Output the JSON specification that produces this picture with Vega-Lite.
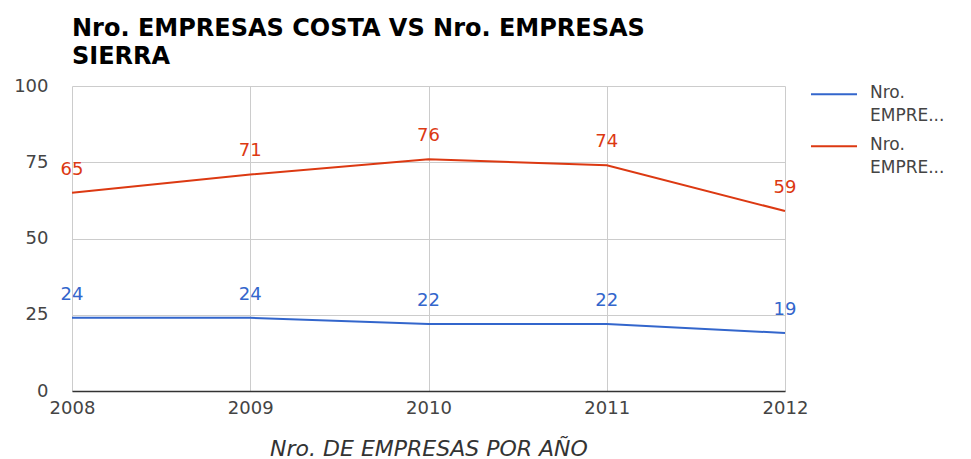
{
  "$schema": "https://vega.github.io/schema/vega-lite/v6.json",
  "width": 713,
  "height": 305,
  "autosize": {"type": "none"},
  "padding": {"left": 72, "top": 86, "right": 186, "bottom": 68},
  "background": "white",
  "title": {
    "text": ["Nro. EMPRESAS COSTA VS Nro. EMPRESAS", "SIERRA"],
    "anchor": "start",
    "font": "DejaVu Sans",
    "fontSize": 24,
    "fontWeight": "bold",
    "color": "#000000",
    "lineHeight": 28,
    "baseline": "top",
    "offset": 3,
    "frame": "group"
  },
  "config": {
    "view": {"stroke": null},
    "font": "DejaVu Sans",
    "style": {"guide-label": {"lineHeight": 23}}
  },
  "data": {
    "values": [
      {"year": "2008", "series": "Nro. EMPRESAS COSTA", "value": 24},
      {"year": "2009", "series": "Nro. EMPRESAS COSTA", "value": 24},
      {"year": "2010", "series": "Nro. EMPRESAS COSTA", "value": 22},
      {"year": "2011", "series": "Nro. EMPRESAS COSTA", "value": 22},
      {"year": "2012", "series": "Nro. EMPRESAS COSTA", "value": 19},
      {"year": "2008", "series": "Nro. EMPRESAS SIERRA", "value": 65},
      {"year": "2009", "series": "Nro. EMPRESAS SIERRA", "value": 71},
      {"year": "2010", "series": "Nro. EMPRESAS SIERRA", "value": 76},
      {"year": "2011", "series": "Nro. EMPRESAS SIERRA", "value": 74},
      {"year": "2012", "series": "Nro. EMPRESAS SIERRA", "value": 59}
    ]
  },
  "encoding": {
    "x": {
      "field": "year",
      "type": "ordinal",
      "scale": {"type": "point", "padding": 0},
      "axis": {
        "title": "Nro. DE EMPRESAS POR AÑO",
        "titleFont": "DejaVu Sans",
        "titleFontSize": 22,
        "titleFontStyle": "italic",
        "titleFontWeight": "normal",
        "titleColor": "#333333",
        "titlePadding": 21,
        "labelAngle": 0,
        "labelFontSize": 18,
        "labelColor": "#444444",
        "labelPadding": 8,
        "ticks": false,
        "grid": true,
        "gridColor": "#cccccc",
        "domainColor": "#333333",
        "domainWidth": 1.5
      }
    },
    "y": {
      "field": "value",
      "type": "quantitative",
      "scale": {"domain": [0, 100], "nice": false},
      "axis": {
        "title": null,
        "values": [0, 25, 50, 75, 100],
        "labelFontSize": 18,
        "labelColor": "#444444",
        "labelPadding": 24,
        "ticks": false,
        "domain": false,
        "gridColor": "#cccccc"
      }
    },
    "color": {
      "field": "series",
      "type": "nominal",
      "scale": {"domain": ["Nro. EMPRESAS COSTA", "Nro. EMPRESAS SIERRA"], "range": ["#3366cc", "#dc3912"]},
      "legend": {
        "title": null,
        "orient": "none",
        "legendX": 741,
        "legendY": -14,
        "padding": 0,
        "symbolType": "M-1.165,0.06H1.165",
        "symbolSize": 1560,
        "symbolStrokeWidth": 2,
        "labelExpr": "['Nro.', 'EMPRE...']",
        "labelBaseline": "middle",
        "labelFontSize": 17,
        "labelColor": "#444444",
        "labelOffset": 15,
        "rowPadding": 0,
        "labelLimit": 200
      }
    }
  },
  "layer": [
    {"mark": {"type": "line", "strokeWidth": 2}},
    {
      "mark": {"type": "text", "dy": -23, "baseline": "middle", "fontSize": 18, "font": "DejaVu Sans"},
      "encoding": {"text": {"field": "value", "type": "quantitative"}}
    }
  ]
}
